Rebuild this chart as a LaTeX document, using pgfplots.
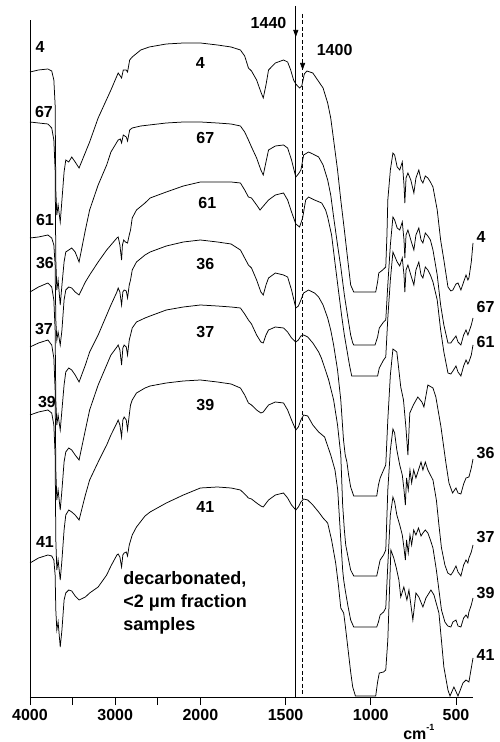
\documentclass[border=0pt]{standalone}
\usepackage{fontspec}
\setmainfont{Liberation Sans}
\usepackage{pgfplots}
\pgfplotsset{compat=1.18}
\usetikzlibrary{arrows.meta}

\pgfplotstableread{
x y
4000 72
3900 70
3790 69
3745 71
3720 80
3705 105
3697 190
3685 215
3670 205
3645 222
3625 200
3600 172
3580 160
3545 162
3510 157
3470 162
3424 168
3300 142
3200 118
3050 90
2965 73
2940 76
2925 78
2905 70
2870 70
2855 72
2830 60
2800 57
2700 50
2600 47
2400 44
2200 43
2000 43
1900 45
1820 47
1765 50
1740 56
1718 68
1700 71
1670 80
1645 92
1631 98
1615 85
1600 70
1560 63
1512 60
1488 62
1470 70
1453 80
1440 84
1418 88
1405 86
1390 74
1375 71
1340 73
1312 80
1280 88
1253 103
1235 118
1218 140
1195 170
1176 200
1155 230
1135 260
1118 285
1100 292
971 292
960 282
953 273
930 270
912 267
905 235
900 200
885 170
870 153
860 155
845 167
830 170
815 162
805 185
800 203
793 178
782 173
765 180
747 193
735 178
718 170
705 180
694 183
680 176
665 178
650 182
635 187
610 210
590 240
571 260
547 287
530 291
518 290
500 284
488 283
471 290
455 282
441 275
430 280
424 278
410 262
400 243
}\sfour

\pgfplotstableread{
x y
4000 122
3900 123
3790 124
3745 128
3720 140
3705 170
3697 260
3685 290
3670 280
3645 305
3625 285
3600 262
3580 252
3545 250
3510 248
3470 252
3424 262
3350 230
3300 210
3200 185
3100 165
3050 152
2965 140
2940 139
2925 143
2905 135
2870 137
2855 141
2830 130
2800 128
2700 126
2600 125
2400 123
2200 122
2000 122
1900 123
1820 124
1765 126
1740 132
1718 140
1700 147
1670 158
1645 170
1631 175
1615 162
1600 150
1560 146
1512 145
1488 148
1465 160
1440 177
1425 174
1410 170
1394 155
1365 152
1340 154
1306 157
1280 165
1253 180
1235 195
1218 217
1195 245
1176 267
1155 295
1135 317
1118 335
1106 343
1100 345
975 345
960 337
950 328
925 322
912 320
900 285
885 245
870 217
860 220
845 228
830 230
815 222
805 240
800 258
793 235
782 230
765 240
747 250
735 235
718 228
705 240
694 243
680 233
665 236
650 240
635 250
610 275
590 305
571 325
547 343
530 343
518 340
500 336
488 342
471 345
455 335
441 330
430 335
424 332
410 325
400 318
}\ssixtyseven

\pgfplotstableread{
x y
4000 238
3900 237
3790 235
3745 238
3720 245
3705 265
3697 320
3685 340
3670 332
3645 345
3625 330
3600 300
3580 290
3545 287
3510 288
3470 292
3424 295
3350 282
3300 275
3200 262
3100 250
3050 245
2980 238
2965 237
2945 245
2925 260
2915 245
2900 240
2880 242
2855 243
2835 235
2820 230
2800 218
2750 210
2650 203
2590 198
2400 192
2200 186
2000 182
1900 182
1820 182
1765 183
1740 190
1718 197
1700 198
1670 205
1650 210
1630 206
1600 200
1560 195
1512 193
1488 200
1465 212
1440 224
1418 227
1400 218
1382 200
1365 197
1330 200
1288 203
1265 210
1253 217
1230 235
1212 260
1190 290
1170 317
1155 335
1140 350
1125 365
1112 376
960 376
950 368
925 360
912 357
900 318
885 280
870 252
860 256
845 262
830 266
815 258
805 275
800 292
793 270
782 265
765 275
747 285
735 270
718 262
705 275
694 278
680 267
665 270
650 275
635 282
610 300
590 330
571 352
547 373
530 374
518 371
500 366
488 372
471 376
455 366
441 360
430 364
424 362
410 355
400 345
}\ssixtyone

\pgfplotstableread{
x y
4000 292
3900 287
3790 283
3745 287
3720 300
3705 330
3697 400
3685 425
3670 415
3645 430
3625 410
3600 385
3580 372
3545 368
3510 370
3470 375
3424 382
3350 365
3300 352
3200 335
3100 315
3050 305
2980 292
2965 288
2945 292
2925 305
2910 292
2895 290
2870 291
2855 298
2835 285
2820 280
2800 270
2750 262
2650 255
2590 252
2400 246
2200 242
2000 240
1900 242
1820 244
1765 250
1740 258
1718 265
1700 268
1670 280
1645 292
1631 295
1615 285
1600 278
1560 273
1512 275
1488 277
1465 290
1440 308
1425 306
1410 300
1394 293
1365 290
1330 293
1306 297
1280 305
1253 318
1235 330
1218 345
1195 370
1176 400
1160 440
1150 455
1140 462
1130 475
1118 487
1100 496
965 496
955 485
945 478
925 470
912 465
900 420
885 375
870 349
847 352
824 387
808 400
794 427
782 455
771 413
750 405
724 397
700 402
688 407
665 385
635 388
618 397
588 427
559 463
541 483
520 493
500 488
488 493
471 494
455 484
441 478
424 477
410 468
400 459
}\sthirtysix

\pgfplotstableread{
x y
4000 347
3900 343
3790 340
3745 345
3720 358
3705 390
3697 470
3685 500
3670 490
3645 510
3625 490
3600 462
3580 452
3545 448
3510 450
3470 455
3424 460
3350 430
3300 410
3200 385
3100 365
3050 355
2980 347
2965 345
2945 350
2925 365
2910 348
2895 345
2870 347
2855 355
2835 340
2820 335
2800 328
2750 322
2650 318
2590 316
2400 310
2200 307
2000 305
1900 306
1820 307
1765 308
1740 314
1718 320
1700 324
1670 335
1645 342
1631 343
1615 335
1600 330
1560 327
1512 328
1488 332
1465 338
1440 342
1425 340
1410 336
1394 335
1370 337
1340 343
1306 352
1290 358
1270 368
1247 380
1218 400
1195 425
1176 455
1165 505
1155 530
1147 545
1130 560
1118 570
1100 576
965 576
955 568
945 560
925 555
912 550
900 490
885 450
870 429
860 433
847 450
830 465
815 475
805 490
797 505
790 478
780 490
770 470
760 483
748 470
735 478
720 470
705 462
694 470
680 462
665 470
650 475
635 480
615 500
600 525
585 548
565 565
548 573
530 575
518 572
500 566
488 572
471 576
455 565
441 560
430 563
424 558
410 552
400 545
}\sthirtyseven

\pgfplotstableread{
x y
4000 415
3900 412
3790 410
3745 413
3720 425
3705 455
3697 540
3685 570
3670 560
3645 580
3625 560
3600 530
3580 515
3545 510
3510 512
3470 515
3424 520
3350 495
3300 480
3200 462
3100 445
3050 435
2980 423
2965 420
2945 425
2925 437
2910 420
2895 417
2870 420
2855 430
2835 415
2820 405
2800 400
2750 393
2650 388
2590 386
2400 383
2200 381
2000 380
1900 382
1820 384
1765 388
1740 395
1718 403
1700 405
1670 410
1645 413
1631 412
1600 405
1560 402
1512 403
1488 410
1465 420
1440 430
1425 427
1410 420
1394 415
1370 416
1340 425
1306 432
1271 437
1235 455
1210 470
1194 490
1176 540
1165 570
1159 580
1150 590
1135 605
1118 620
1100 627
965 627
955 622
945 615
925 612
912 608
900 565
885 515
870 497
860 502
847 515
830 525
815 535
805 548
797 560
790 540
780 553
770 535
760 545
748 530
735 535
720 528
705 536
694 533
680 530
665 533
650 540
635 548
615 570
600 590
585 610
565 622
548 626
530 627
518 622
500 620
488 626
471 627
455 618
441 615
430 618
424 612
410 605
400 598
}\sthirtynine

\pgfplotstableread{
x y
4000 563
3900 558
3790 555
3745 556
3720 560
3705 575
3697 610
3685 630
3670 622
3645 647
3625 630
3600 600
3580 593
3545 590
3510 591
3470 596
3424 600
3350 597
3300 593
3200 587
3100 575
3050 566
2980 555
2965 554
2945 557
2925 567
2910 555
2895 553
2870 552
2855 556
2835 545
2800 535
2750 527
2650 516
2590 512
2400 503
2200 495
2000 488
1900 487
1820 488
1765 490
1740 494
1718 498
1700 499
1670 503
1645 506
1631 507
1600 500
1560 495
1512 493
1488 498
1465 505
1440 510
1425 507
1410 502
1394 499
1370 500
1340 505
1306 512
1280 518
1253 523
1230 540
1206 563
1190 585
1176 608
1159 613
1150 625
1135 647
1118 672
1106 687
1090 696
971 696
960 682
950 673
925 672
912 670
900 640
882 550
865 558
850 568
835 580
824 597
806 587
788 600
776 590
753 620
735 593
718 597
694 607
676 598
647 590
629 595
600 613
571 667
547 690
535 696
512 687
488 696
459 683
441 680
424 682
400 658
}\sfortyone

\begin{document}
\begin{tikzpicture}
\useasboundingbox (-30bp,-45bp) rectangle (470bp,697bp);
\begin{axis}[
  at={(0,0)}, anchor=south west,
  scale only axis, width=443bp, height=677bp,
  x coord trafo/.code={\pgfmathparse{#1>1999.5 ? 4000-#1 : 6000-2*#1}},
  xmin=4000, xmax=400,
  ymin=45, ymax=722,
  y filter/.expression={742-y},
  axis x line=bottom, axis y line=left,
  axis line style={-, line width=0.8bp},
  xtick={4000,3500,3000,2500,2000,1500,1000,500},
  xticklabels={4000,,3000,,2000,1500,1000,500},
  ytick=\empty,
  tick align=outside, major tick length=8bp,
  tick style={black, line width=0.7bp},
  /pgf/number format/assume math mode=true,
  xticklabel style={font=\fontsize{16bp}{18bp}\selectfont\bfseries, yshift=-1bp},
  clip=false,
  spec/.style={black, solid, line width=0.75bp, mark=none},
]
\addplot[spec] table {\sfour};
\addplot[spec] table {\ssixtyseven};
\addplot[spec] table {\ssixtyone};
\addplot[spec] table {\sthirtysix};
\addplot[spec] table {\sthirtyseven};
\addplot[spec] table {\sthirtynine};
\addplot[spec] table {\sfortyone};
% reference lines 1440 and 1400
\addplot[black, line width=0.7bp, mark=none] coordinates {(1440,30) (1440,697)};
\addplot[black, line width=0.7bp, mark=none, -{Triangle[length=7bp,width=5bp]}] coordinates {(1440,6) (1440,37)};
\addplot[black, line width=0.7bp, mark=none, dash pattern=on 4bp off 2.5bp] coordinates {(1400,60) (1400,697)};
\addplot[black, line width=0.7bp, mark=none, dash pattern=on 4bp off 2.5bp, -{Triangle[length=7bp,width=5bp]}] coordinates {(1400,14) (1400,70)};
% labels
\begin{scope}[every node/.style={font=\fontsize{16bp}{18bp}\selectfont\bfseries, inner sep=0pt}]
\node at (axis cs:3883,695) {4};
\node at (axis cs:3836,630) {67};
\node at (axis cs:3825,522) {61};
\node at (axis cs:3825,479) {36};
\node at (axis cs:3836,413) {37};
\node at (axis cs:3801,340) {39};
\node at (axis cs:3825,200) {41};
\node at (axis cs:2000,679) {4};
\node at (axis cs:1971,604) {67};
\node at (axis cs:1959,539) {61};
\node at (axis cs:1971,478) {36};
\node at (axis cs:1971,410) {37};
\node at (axis cs:1971,337) {39};
\node at (axis cs:1971,235) {41};
\node[anchor=west] at (axis cs:380,505) {4};
\node[anchor=west] at (axis cs:380,435) {67};
\node[anchor=west] at (axis cs:380,400) {61};
\node[anchor=west] at (axis cs:380,289) {36};
\node[anchor=west] at (axis cs:380,205) {37};
\node[anchor=west] at (axis cs:380,149) {39};
\node[anchor=west] at (axis cs:380,87) {41};
\node at (axis cs:1600,719) {1440};
\node at (axis cs:1212,692) {1400};
\node[anchor=south] at (axis cs:718,2) {cm\raisebox{0.55em}{\fontsize{9bp}{9bp}\selectfont -1}};
\end{scope}
\node[anchor=west, align=left, inner sep=0pt, font=\fontsize{18bp}{23bp}\selectfont\bfseries] at (axis cs:2906,139) {decarbonated,\\<2 μm fraction\\samples};
\end{axis}
\end{tikzpicture}
\end{document}
